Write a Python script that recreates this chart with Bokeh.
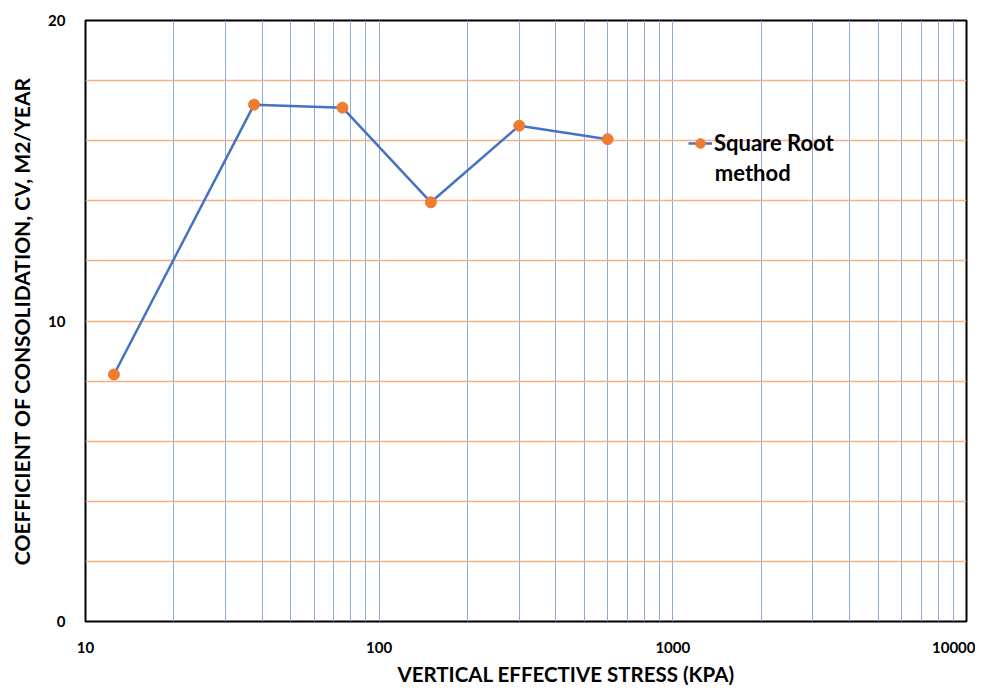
from bokeh.plotting import figure
from bokeh.models import FixedTicker, Legend, LegendItem, Label, Title
from bokeh.embed import file_html
from bokeh.resources import INLINE

# Data
stress_kpa = [12.5, 37.5, 75, 150, 300, 600]
cv_m2_year = [8.22, 17.2, 17.1, 13.95, 16.5, 16.05]
series_name_line1 = "Square Root"
series_name_line2 = "method"
x_title = "VERTICAL EFFECTIVE STRESS (KPA)"
y_title = "COEFFICIENT OF CONSOLIDATION, CV, M2/YEAR"

x_major = [10, 100, 1000, 10000]
x_minor = [20, 30, 40, 50, 60, 70, 80, 90,
           200, 300, 400, 500, 600, 700, 800, 900,
           2000, 3000, 4000, 5000, 6000, 7000, 8000, 9000]
y_major = [0, 10, 20]
y_minor = [2, 4, 6, 8, 12, 14, 16, 18]

FONT = "Lato"
BLUE = "#4472C4"
ORANGE = "#ED7D31"
GRID_BLUE = "#8EA9DB"
GRID_ORANGE = "#F4B183"

p = figure(width=975, height=690, x_axis_type="log",
           x_range=(10, 10000), y_range=(0, 20),
           output_backend="svg", toolbar_location=None,
           min_border_left=85, min_border_right=9,
           min_border_top=20, min_border_bottom=69)

p.outline_line_color = "black"
p.outline_line_width = 2
p.background_fill_color = "white"

p.xaxis.ticker = FixedTicker(ticks=x_major, minor_ticks=x_minor)
p.yaxis.ticker = FixedTicker(ticks=y_major, minor_ticks=y_minor)
p.xaxis.major_label_overrides = {v: str(v) for v in x_major}

for ax in (p.xaxis, p.yaxis):
    ax.axis_line_color = None
    ax.major_tick_line_color = None
    ax.minor_tick_line_color = None
    ax.major_label_text_font = FONT
    ax.major_label_text_font_style = "bold"
    ax.major_label_text_font_size = "15px"
    ax.major_label_text_color = "black"
    ax.axis_label_text_font = FONT
    ax.axis_label_text_font_style = "bold"
    ax.axis_label_text_color = "black"

p.yaxis.axis_label = y_title
p.yaxis.axis_label_text_font_size = "21px"
p.xaxis.major_label_standoff = 14
p.yaxis.major_label_standoff = 14
p.yaxis.axis_label_standoff = 11

# x-axis title sits right of the frame centre in the original, as a title below
p.add_layout(Title(text=x_title, align="left", offset=312, standoff=8,
                   text_font=FONT, text_font_style="bold",
                   text_font_size="20.5px", text_color="black"), "below")

p.xgrid.grid_line_color = GRID_BLUE
p.xgrid.minor_grid_line_color = GRID_BLUE
p.xgrid.grid_line_width = 1
p.xgrid.minor_grid_line_width = 1
p.ygrid.grid_line_color = GRID_ORANGE
p.ygrid.minor_grid_line_color = GRID_ORANGE
p.ygrid.grid_line_width = 1.5
p.ygrid.minor_grid_line_width = 1.5

line = p.line(stress_kpa, cv_m2_year, line_color=BLUE, line_width=2.5)
pts = p.scatter(stress_kpa, cv_m2_year, size=11, fill_color=ORANGE,
                line_color=ORANGE)

legend = Legend(items=[LegendItem(label=series_name_line1, renderers=[line, pts])],
                location=(603, 465),
                background_fill_alpha=0, border_line_alpha=0,
                padding=0, margin=0, spacing=0,
                glyph_width=24, glyph_height=26, label_height=26,
                label_standoff=2,
                label_text_font=FONT, label_text_font_style="bold",
                label_text_font_size="22px", label_text_color="black")
p.add_layout(legend)

p.add_layout(Label(x=1390, y=14.95, text=series_name_line2,
                   text_font=FONT, text_font_style="bold",
                   text_font_size="22px", text_color="black",
                   text_baseline="middle", text_align="left"))

open("out.html", "w").write(file_html(p, INLINE))
